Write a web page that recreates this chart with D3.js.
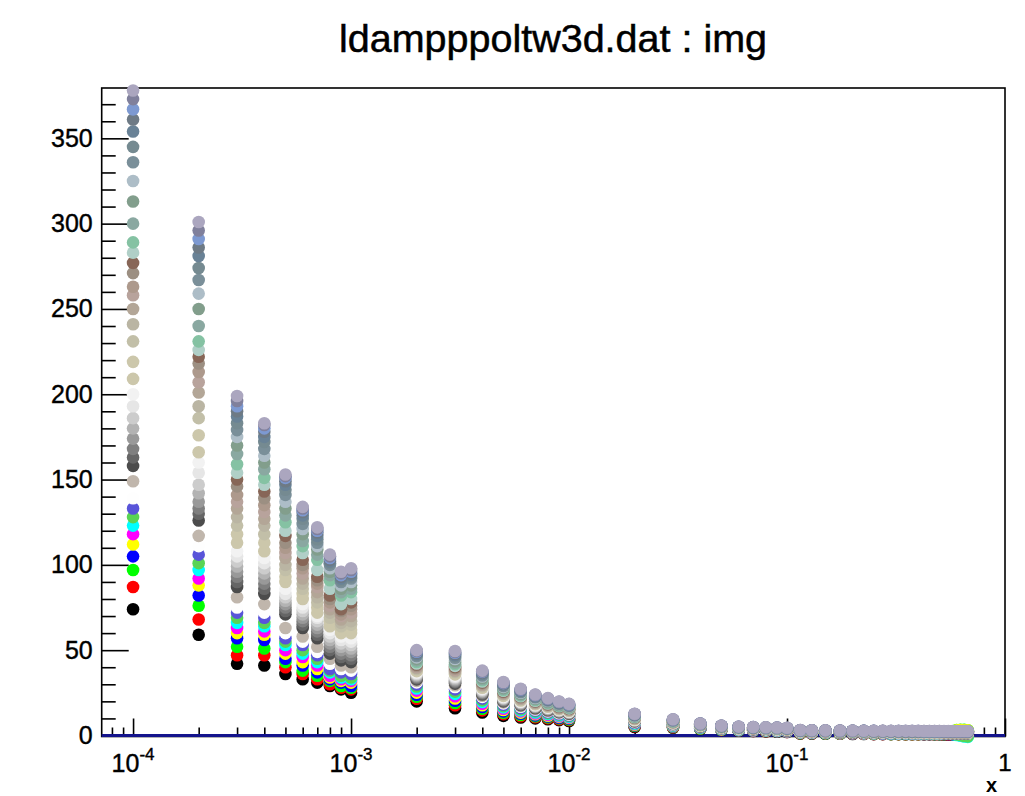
<!DOCTYPE html>
<html>
<head>
<meta charset="utf-8">
<script src="https://cdnjs.cloudflare.com/ajax/libs/d3/7.8.5/d3.min.js"></script>
<style>
  body { margin: 0; background: #ffffff; }
  svg text { font-family: "Liberation Sans", Arial, Helvetica, sans-serif; }
</style>
</head>
<body>
<div id="plot"></div>
<script>
// x position of every column of points
var xValues = [0.0001, 0.0002, 0.0003, 0.0004, 0.0005, 0.0006, 0.0007, 0.0008, 0.0009,
  0.001, 0.002, 0.003, 0.004, 0.005, 0.006, 0.007, 0.008, 0.009,
  0.01, 0.02, 0.03, 0.04, 0.05, 0.06, 0.07, 0.08, 0.09,
  0.1, 0.115, 0.13, 0.15, 0.175, 0.2, 0.225, 0.25, 0.275, 0.3, 0.325, 0.35, 0.375, 0.4,
  0.425, 0.45, 0.475, 0.5, 0.525, 0.55, 0.575, 0.6, 0.625, 0.65, 0.675];

// values of the 40 series (series 1 .. 40) in each column
var v_1e4 = [74, 87, 97, 105, 112, 118, 123, 128, 133, 139, 149, 158, 163, 168, 174, 180, 186, 193, 200, 209, 219, 231, 241, 250, 258, 263, 271, 277, 283, 289, 300, 313, 325, 336, 345, 354, 361, 367, 373, 378];
var v_2e4 = [59, 68, 76, 82, 88, 92, 97, 101, 106, 111, 117, 126, 130, 133, 137, 142, 147, 154, 160, 166, 176, 186, 193, 201, 207, 213, 218, 222, 226, 231, 240, 250, 259, 267, 274, 281, 286, 291, 296, 301];
var v_3e4 = [42, 47, 52, 57, 60, 63, 66, 69, 72, 75, 81, 87, 90, 93, 96, 99, 102, 105, 108, 113, 118, 123, 128, 133, 137, 141, 146, 150, 154, 159, 165, 170, 175, 179, 183, 187, 190, 193, 196, 199];
var v_4e4 = [41, 47, 51, 56, 59, 61, 64, 66, 69, 72, 77, 83, 86, 89, 92, 95, 98, 101, 104, 108, 113, 118, 123, 127, 131, 135, 139, 143, 147, 151, 156, 160, 164, 168, 172, 175, 178, 180, 182, 183];
var v_5e4 = [36, 40, 43, 45, 48, 50, 53, 55, 57, 60, 63, 71, 73, 75, 77, 79, 81, 83, 86, 90, 93, 97, 100, 104, 107, 110, 113, 117, 120, 125, 129, 133, 137, 141, 144, 147, 149, 151, 152, 153];
var v_6e4 = [33, 36, 38, 41, 43, 46, 48, 50, 53, 55, 58, 63, 65, 67, 69, 71, 73, 75, 77, 80, 83, 86, 89, 92, 95, 98, 100, 103, 107, 111, 114, 118, 121, 124, 127, 129, 131, 132, 133, 134];
var v_7e4 = [31, 33, 35, 37, 39, 41, 43, 45, 47, 49, 52, 57, 59, 61, 63, 65, 67, 69, 70, 72, 75, 78, 81, 84, 87, 89, 91, 93, 97, 103, 106, 109, 111, 113, 115, 117, 119, 120, 121, 122];
var v_8e4 = [29, 30, 32, 33, 34, 35, 37, 38, 39, 42, 45, 48, 50, 52, 54, 56, 58, 60, 62, 64, 67, 69, 72, 74, 76, 78, 80, 82, 86, 91, 94, 96, 98, 100, 101, 102, 103, 104, 105, 106];
var v_9e4 = [27, 28, 29, 31, 32, 33, 34, 35, 37, 39, 41, 44, 46, 48, 50, 52, 54, 56, 58, 60, 62, 64, 66, 68, 70, 71, 73, 74, 77, 82, 84, 86, 88, 90, 91, 92, 93, 94, 95, 96];
var v_1e3 = [25, 27, 28, 29, 31, 32, 33, 34, 36, 38, 40, 43, 45, 47, 49, 51, 53, 55, 57, 60, 62, 65, 67, 70, 72, 74, 76, 78, 80, 84, 86, 88, 90, 92, 93, 94, 95, 96, 97, 98];
var v_2e3 = [20, 21.5, 22.7, 23.9, 25.1, 26.3, 27.5, 28.7, 29.9, 31.1, 32, 32.9, 33.5, 34.1, 34.7, 35.3, 35.9, 36.5, 37.1, 37.7, 38.3, 38.9, 39.4, 39.8, 40.3, 40.7, 41.2, 41.6, 42.2, 43.1, 44, 44.9, 45.8, 46.6, 47.3, 47.9, 48.5, 49.1, 49.6, 50];
var v_3e3 = [16, 17.7, 19, 20.4, 21.7, 23, 24.4, 25.7, 27, 28.4, 29.4, 30.4, 31.1, 31.7, 32.4, 33.1, 33.8, 34.4, 35.1, 35.8, 36.4, 37.1, 37.6, 38.1, 38.6, 39.1, 39.6, 40.1, 40.8, 41.8, 42.8, 43.8, 44.8, 45.6, 46.5, 47.2, 47.8, 48.5, 49, 49.5];
var v_4e3 = [13.5, 14.7, 15.7, 16.7, 17.7, 18.6, 19.6, 20.6, 21.6, 22.6, 23.3, 24, 24.5, 25, 25.5, 26, 26.5, 27, 27.5, 28, 28.4, 28.9, 29.3, 29.7, 30, 30.4, 30.8, 31.1, 31.6, 32.4, 33.1, 33.8, 34.6, 35.2, 35.8, 36.3, 36.8, 37.3, 37.6, 38];
var v_5e3 = [11.5, 12.5, 13.3, 14.1, 14.9, 15.7, 16.5, 17.2, 18, 18.8, 19.4, 20, 20.4, 20.8, 21.2, 21.6, 22, 22.4, 22.8, 23.2, 23.6, 24, 24.3, 24.6, 24.9, 25.2, 25.5, 25.8, 26.2, 26.7, 27.3, 27.9, 28.5, 29, 29.5, 29.9, 30.3, 30.7, 31, 31.3];
var v_6e3 = [10.5, 11.3, 12, 12.7, 13.4, 14.1, 14.7, 15.4, 16.1, 16.8, 17.3, 17.8, 18.1, 18.4, 18.8, 19.1, 19.5, 19.8, 20.1, 20.5, 20.8, 21.1, 21.4, 21.7, 21.9, 22.2, 22.4, 22.7, 23, 23.5, 24, 24.5, 25, 25.5, 25.9, 26.2, 26.6, 26.9, 27.1, 27.4];
var v_7e3 = [10, 10.7, 11.3, 11.8, 12.4, 12.9, 13.5, 14.1, 14.6, 15.2, 15.6, 16, 16.3, 16.6, 16.9, 17.1, 17.4, 17.7, 18, 18.3, 18.5, 18.8, 19, 19.2, 19.5, 19.7, 19.9, 20.1, 20.4, 20.8, 21.2, 21.6, 22, 22.4, 22.7, 23, 23.3, 23.6, 23.8, 24];
var v_8e3 = [9.5, 10.1, 10.6, 11.1, 11.6, 12.1, 12.6, 13.1, 13.6, 14.1, 14.5, 14.8, 15.1, 15.3, 15.6, 15.8, 16.1, 16.3, 16.6, 16.8, 17.1, 17.3, 17.5, 17.7, 17.9, 18.1, 18.2, 18.4, 18.7, 19, 19.4, 19.8, 20.2, 20.5, 20.8, 21, 21.3, 21.5, 21.7, 21.9];
var v_9e3 = [9, 9.5, 10, 10.4, 10.9, 11.3, 11.7, 12.2, 12.6, 13, 13.4, 13.7, 13.9, 14.1, 14.3, 14.6, 14.8, 15, 15.2, 15.4, 15.6, 15.9, 16, 16.2, 16.4, 16.5, 16.7, 16.8, 17.1, 17.4, 17.7, 18, 18.4, 18.6, 18.9, 19.1, 19.4, 19.6, 19.7, 19.9];
var v_1e2 = [8.5, 9, 9.4, 9.8, 10.2, 10.6, 11, 11.4, 11.8, 12.2, 12.5, 12.8, 13, 13.2, 13.4, 13.6, 13.8, 14, 14.2, 14.4, 14.6, 14.8, 15, 15.1, 15.3, 15.4, 15.6, 15.7, 15.9, 16.2, 16.5, 16.8, 17.1, 17.4, 17.6, 17.8, 18, 18.2, 18.4, 18.5];
var v_2e2 = [5, 5.4, 5.7, 6, 6.3, 6.6, 6.9, 7.2, 7.5, 7.8, 8.1, 8.3, 8.5, 8.6, 8.8, 8.9, 9.1, 9.2, 9.4, 9.5, 9.7, 9.9, 10, 10.1, 10.2, 10.3, 10.4, 10.5, 10.7, 10.9, 11.2, 11.4, 11.6, 11.8, 12, 12.2, 12.3, 12.5, 12.6, 12.7];
var v_3e2 = [4.5, 4.8, 5, 5.2, 5.4, 5.6, 5.8, 6, 6.2, 6.4, 6.6, 6.7, 6.8, 6.9, 7, 7.1, 7.2, 7.3, 7.4, 7.5, 7.6, 7.7, 7.8, 7.8, 7.9, 8, 8, 8.1, 8.2, 8.3, 8.5, 8.6, 8.8, 8.9, 9, 9.1, 9.2, 9.3, 9.4, 9.5];
var v_4e2 = [3.8, 4, 4.1, 4.3, 4.4, 4.6, 4.7, 4.9, 5, 5.2, 5.3, 5.4, 5.5, 5.5, 5.6, 5.7, 5.7, 5.8, 5.9, 5.9, 6, 6.1, 6.1, 6.2, 6.2, 6.3, 6.3, 6.4, 6.4, 6.5, 6.6, 6.6, 6.7, 6.8, 6.8, 6.9, 6.9, 7, 7, 7];
var v_5e2 = [3.2, 3.3, 3.4, 3.5, 3.6, 3.8, 3.9, 4, 4.1, 4.2, 4.3, 4.4, 4.4, 4.5, 4.5, 4.6, 4.6, 4.7, 4.7, 4.8, 4.8, 4.9, 4.9, 5, 5, 5.1, 5.1, 5.1, 5.2, 5.2, 5.3, 5.4, 5.4, 5.5, 5.5, 5.6, 5.6, 5.7, 5.7, 5.8];
var v_6e2 = [2.8, 2.9, 3, 3.1, 3.2, 3.3, 3.4, 3.5, 3.6, 3.7, 3.8, 3.9, 3.9, 4, 4, 4.1, 4.1, 4.2, 4.2, 4.3, 4.3, 4.4, 4.4, 4.5, 4.5, 4.5, 4.6, 4.6, 4.6, 4.7, 4.7, 4.8, 4.8, 4.9, 4.9, 5, 5, 5.1, 5.1, 5.2];
var v_7e2 = [2.6, 2.7, 2.8, 2.9, 3, 3.1, 3.2, 3.3, 3.4, 3.5, 3.6, 3.7, 3.7, 3.8, 3.8, 3.9, 3.9, 4, 4, 4.1, 4.1, 4.2, 4.2, 4.3, 4.3, 4.3, 4.4, 4.4, 4.4, 4.5, 4.5, 4.6, 4.6, 4.7, 4.7, 4.8, 4.8, 4.9, 4.9, 5];
var v_8e2 = [2.4, 2.5, 2.6, 2.7, 2.8, 2.9, 3, 3.1, 3.2, 3.3, 3.4, 3.5, 3.5, 3.6, 3.6, 3.7, 3.7, 3.8, 3.8, 3.9, 3.9, 4, 4, 4.1, 4.1, 4.1, 4.2, 4.2, 4.2, 4.3, 4.3, 4.4, 4.4, 4.5, 4.5, 4.6, 4.6, 4.7, 4.7, 4.8];
var v_9e2 = [2.2, 2.3, 2.4, 2.5, 2.6, 2.7, 2.8, 2.9, 3, 3.1, 3.2, 3.3, 3.3, 3.4, 3.5, 3.5, 3.6, 3.6, 3.7, 3.7, 3.8, 3.8, 3.9, 3.9, 4, 4, 4.1, 4.1, 4.1, 4.2, 4.2, 4.3, 4.3, 4.4, 4.4, 4.5, 4.5, 4.6, 4.6, 4.7];
var v_1e1 = [2, 2.1, 2.2, 2.3, 2.4, 2.5, 2.6, 2.7, 2.8, 2.9, 3, 3.1, 3.1, 3.2, 3.3, 3.3, 3.4, 3.4, 3.5, 3.5, 3.6, 3.6, 3.7, 3.7, 3.8, 3.8, 3.9, 3.9, 3.9, 4, 4, 4.1, 4.1, 4.2, 4.2, 4.3, 4.3, 4.4, 4.4, 4.5];
var v_0115 = [1.2, 1.3, 1.4, 1.5, 1.6, 1.7, 1.8, 1.9, 2, 2, 2.1, 2.2, 2.2, 2.3, 2.3, 2.4, 2.4, 2.5, 2.5, 2.5, 2.6, 2.6, 2.6, 2.7, 2.7, 2.7, 2.8, 2.8, 2.8, 2.9, 2.9, 2.9, 3, 3, 3, 3.1, 3.1, 3.1, 3.2, 3.2];
var v_0130 = [1.1, 1.2, 1.3, 1.4, 1.5, 1.6, 1.7, 1.8, 1.9, 1.9, 2, 2.1, 2.1, 2.2, 2.2, 2.3, 2.3, 2.4, 2.4, 2.4, 2.5, 2.5, 2.5, 2.6, 2.6, 2.6, 2.7, 2.7, 2.7, 2.8, 2.8, 2.8, 2.9, 2.9, 2.9, 3, 3, 3, 3.1, 3.1];
var v_0150 = [1, 1.1, 1.2, 1.3, 1.4, 1.5, 1.6, 1.7, 1.8, 1.8, 1.9, 2, 2, 2.1, 2.1, 2.2, 2.2, 2.3, 2.3, 2.3, 2.4, 2.4, 2.4, 2.5, 2.5, 2.5, 2.6, 2.6, 2.6, 2.7, 2.7, 2.7, 2.8, 2.8, 2.8, 2.9, 2.9, 2.9, 3, 3];
var v_0175 = [1, 1.1, 1.2, 1.3, 1.3, 1.4, 1.5, 1.6, 1.7, 1.7, 1.8, 1.9, 1.9, 2, 2, 2.1, 2.1, 2.2, 2.2, 2.2, 2.3, 2.3, 2.3, 2.4, 2.4, 2.4, 2.5, 2.5, 2.5, 2.6, 2.6, 2.6, 2.7, 2.7, 2.7, 2.8, 2.8, 2.8, 2.9, 2.9];
var v_0200 = [0.9, 1, 1.1, 1.2, 1.3, 1.4, 1.5, 1.5, 1.6, 1.7, 1.7, 1.8, 1.9, 1.9, 2, 2, 2.1, 2.1, 2.1, 2.2, 2.2, 2.3, 2.3, 2.3, 2.4, 2.4, 2.4, 2.5, 2.5, 2.5, 2.6, 2.6, 2.6, 2.7, 2.7, 2.7, 2.8, 2.8, 2.8, 2.9];
var v_0225 = [0.9, 1, 1.1, 1.2, 1.2, 1.3, 1.4, 1.5, 1.5, 1.6, 1.7, 1.7, 1.8, 1.8, 1.9, 1.9, 2, 2, 2.1, 2.1, 2.2, 2.2, 2.2, 2.3, 2.3, 2.3, 2.4, 2.4, 2.4, 2.5, 2.5, 2.5, 2.6, 2.6, 2.6, 2.7, 2.7, 2.7, 2.8, 2.8];
var v_0250 = [0.8, 0.9, 1, 1.1, 1.2, 1.3, 1.3, 1.4, 1.5, 1.5, 1.6, 1.7, 1.7, 1.8, 1.8, 1.9, 1.9, 2, 2, 2, 2.1, 2.1, 2.2, 2.2, 2.2, 2.3, 2.3, 2.3, 2.4, 2.4, 2.4, 2.5, 2.5, 2.5, 2.6, 2.6, 2.6, 2.7, 2.7, 2.8];
var v_0275 = [0.8, 0.9, 1, 1.1, 1.1, 1.2, 1.3, 1.4, 1.4, 1.5, 1.6, 1.6, 1.7, 1.7, 1.8, 1.8, 1.9, 1.9, 2, 2, 2, 2.1, 2.1, 2.2, 2.2, 2.2, 2.3, 2.3, 2.3, 2.4, 2.4, 2.4, 2.5, 2.5, 2.5, 2.6, 2.6, 2.6, 2.7, 2.7];
var v_0300 = [0.8, 0.9, 0.9, 1, 1.1, 1.2, 1.2, 1.3, 1.4, 1.5, 1.5, 1.6, 1.6, 1.7, 1.7, 1.8, 1.8, 1.9, 1.9, 2, 2, 2, 2.1, 2.1, 2.2, 2.2, 2.2, 2.3, 2.3, 2.3, 2.4, 2.4, 2.4, 2.5, 2.5, 2.5, 2.6, 2.6, 2.6, 2.7];
var v_0325 = [0.8, 0.8, 0.9, 1, 1.1, 1.1, 1.2, 1.3, 1.4, 1.4, 1.5, 1.6, 1.6, 1.7, 1.7, 1.8, 1.8, 1.9, 1.9, 1.9, 2, 2, 2.1, 2.1, 2.1, 2.2, 2.2, 2.3, 2.3, 2.3, 2.4, 2.4, 2.4, 2.5, 2.5, 2.5, 2.6, 2.6, 2.6, 2.7];
var v_0350 = [0.7, 0.8, 0.9, 1, 1.1, 1.1, 1.2, 1.3, 1.4, 1.4, 1.5, 1.5, 1.6, 1.6, 1.7, 1.7, 1.8, 1.8, 1.9, 1.9, 2, 2, 2, 2.1, 2.1, 2.1, 2.2, 2.2, 2.3, 2.3, 2.3, 2.4, 2.4, 2.4, 2.5, 2.5, 2.5, 2.6, 2.6, 2.7];
var v_0375 = [0.7, 0.8, 0.9, 1, 1, 1.1, 1.2, 1.3, 1.3, 1.4, 1.5, 1.5, 1.6, 1.6, 1.7, 1.7, 1.8, 1.8, 1.9, 1.9, 1.9, 2, 2, 2.1, 2.1, 2.1, 2.2, 2.2, 2.2, 2.3, 2.3, 2.4, 2.4, 2.4, 2.5, 2.5, 2.5, 2.6, 2.6, 2.7];
var v_0400 = [0.7, 0.8, 0.9, 1, 1, 1.1, 1.2, 1.3, 1.3, 1.4, 1.4, 1.5, 1.6, 1.6, 1.7, 1.7, 1.8, 1.8, 1.8, 1.9, 1.9, 2, 2, 2, 2.1, 2.1, 2.2, 2.2, 2.2, 2.3, 2.3, 2.3, 2.4, 2.4, 2.4, 2.5, 2.5, 2.6, 2.6, 2.7];
var v_0425 = [0.7, 0.8, 0.9, 0.9, 1, 1.1, 1.2, 1.2, 1.3, 1.4, 1.4, 1.5, 1.5, 1.6, 1.6, 1.7, 1.7, 1.8, 1.8, 1.9, 1.9, 2, 2, 2, 2.1, 2.1, 2.1, 2.2, 2.2, 2.3, 2.3, 2.3, 2.4, 2.4, 2.4, 2.5, 2.5, 2.5, 2.6, 2.6];
var v_0450 = [0.7, 0.8, 0.9, 0.9, 1, 1.1, 1.2, 1.2, 1.3, 1.4, 1.4, 1.5, 1.5, 1.6, 1.6, 1.7, 1.7, 1.8, 1.8, 1.9, 1.9, 1.9, 2, 2, 2.1, 2.1, 2.1, 2.2, 2.2, 2.2, 2.3, 2.3, 2.4, 2.4, 2.4, 2.5, 2.5, 2.5, 2.6, 2.6];
var v_0475 = [0.7, 0.7, 0.8, 0.9, 1, 1.1, 1.1, 1.2, 1.3, 1.3, 1.4, 1.5, 1.5, 1.6, 1.6, 1.7, 1.7, 1.8, 1.8, 1.8, 1.9, 1.9, 2, 2, 2.1, 2.1, 2.1, 2.2, 2.2, 2.2, 2.3, 2.3, 2.3, 2.4, 2.4, 2.4, 2.5, 2.5, 2.6, 2.6];
var v_0500 = [0.7, 0.7, 0.8, 0.9, 1, 1.1, 1.1, 1.2, 1.3, 1.3, 1.4, 1.5, 1.5, 1.6, 1.6, 1.7, 1.7, 1.8, 1.8, 1.8, 1.9, 1.9, 2, 2, 2, 2.1, 2.1, 2.2, 2.2, 2.2, 2.3, 2.3, 2.3, 2.4, 2.4, 2.4, 2.5, 2.5, 2.6, 2.6];
var v_0525 = [0.6, 0.7, 0.8, 0.9, 1, 1, 1.1, 1.2, 1.2, 1.3, 1.4, 1.4, 1.5, 1.5, 1.6, 1.6, 1.7, 1.7, 1.8, 1.8, 1.9, 1.9, 1.9, 2, 2, 2.1, 2.1, 2.1, 2.2, 2.2, 2.2, 2.3, 2.3, 2.4, 2.4, 2.4, 2.5, 2.5, 2.5, 2.6];
var v_0550 = [0.6, 0.7, 1.6, 0.9, 1.5, 1, 1.1, 1.1, 1.2, 1.3, 1.3, 1.4, 1.5, 1.5, 1.6, 1.6, 1.7, 1.7, 1.7, 1.8, 1.8, 1.9, 1.9, 2, 2, 2, 2.1, 2.1, 2.2, 2.2, 2.2, 2.3, 2.3, 2.3, 2.4, 2.4, 2.4, 2.5, 2.5, 2.6];
var v_0575 = [0.6, 0.7, 2.4, 0.8, 2.3, 1, 0.8, 1.1, 1.2, 1.2, 1.3, 1.4, 1.4, 1.5, 1.5, 1.6, 1.6, 1.7, 1.7, 1.8, 1.8, 1.9, 1.9, 1.9, 2, 2, 2.1, 2.1, 2.1, 2.2, 2.2, 2.3, 2.3, 2.3, 2.4, 2.4, 2.4, 2.5, 2.5, 2.6];
var v_0600 = [0.6, 0.7, 3.2, 0.9, 3.1, 1, 0.3, 0.6, 1.2, 1.3, 1.4, 1.4, 1.5, 1.5, 1.6, 1.6, 1.7, 1.7, 1.8, 1.8, 1.9, 1.9, 1.9, 2, 2, 2.1, 2.1, 2.1, 2.2, 2.2, 2.3, 2.3, 2.3, 2.4, 2.4, 2.4, 2.5, 2.5, 2.5, 2.6];
var v_0625 = [0.6, 0.7, 3.3, 0.8, 3.2, 0.9, -0.2, 0.2, 1.2, 1.2, 1.3, 1.4, 1.4, 1.5, 1.5, 1.6, 1.6, 1.7, 1.7, 1.8, 1.8, 1.9, 1.9, 1.9, 2, 2, 2.1, 2.1, 2.1, 2.2, 2.2, 2.3, 2.3, 2.3, 2.4, 2.4, 2.4, 2.5, 2.5, 2.6];
var v_0650 = [0.6, 0.7, 3.3, 0.8, 3.1, 0.9, -0.6, -0.3, 1.2, 1.2, 1.3, 1.4, 1.4, 1.5, 1.5, 1.6, 1.6, 1.7, 1.7, 1.8, 1.8, 1.9, 1.9, 1.9, 2, 2, 2.1, 2.1, 2.1, 2.2, 2.2, 2.3, 2.3, 2.3, 2.4, 2.4, 2.4, 2.5, 2.5, 2.6];
var v_0675 = [0.6, 0.7, 3.1, 0.8, 3, 0.9, -0.8, -0.5, 1.2, 1.2, 1.3, 1.4, 1.4, 1.5, 1.5, 1.6, 1.6, 1.7, 1.7, 1.8, 1.8, 1.9, 1.9, 1.9, 2, 2, 2.1, 2.1, 2.1, 2.2, 2.2, 2.3, 2.3, 2.3, 2.4, 2.4, 2.4, 2.5, 2.5, 2.6];

var columnValues = [v_1e4, v_2e4, v_3e4, v_4e4, v_5e4, v_6e4, v_7e4, v_8e4, v_9e4,
  v_1e3, v_2e3, v_3e3, v_4e3, v_5e3, v_6e3, v_7e3, v_8e3, v_9e3,
  v_1e2, v_2e2, v_3e2, v_4e2, v_5e2, v_6e2, v_7e2, v_8e2, v_9e2,
  v_1e1, v_0115, v_0130, v_0150, v_0175, v_0200, v_0225, v_0250, v_0275, v_0300, v_0325, v_0350, v_0375, v_0400,
  v_0425, v_0450, v_0475, v_0500, v_0525, v_0550, v_0575, v_0600, v_0625, v_0650, v_0675];

// marker colour of each series (ROOT palette indices 1..40)
var seriesColors = ["#000000", "#ff0000", "#00ff00", "#0000ff", "#ffff00", "#ff00ff", "#00ffff", "#59d454", "#5954d9", "#fefefe",
  "#c0b6ac", "#4c4c4c", "#666666", "#7f7f7f", "#999999", "#b3b3b3", "#cccccc", "#e6e6e6", "#f2f2f2", "#ccc7ab",
  "#ccc7ab", "#c2bfa8", "#bab5a3", "#b3a697", "#b8a39c", "#ad998c", "#9c8f82", "#876657", "#b0cfc7", "#85c2a3",
  "#8aa8a1", "#829e8c", "#adbdc7", "#7a8f99", "#758a91", "#698296", "#6e7a85", "#7d99d1", "#80809c", "#aba6bf"];

// axis ticks
var yMajorTicks = [0, 50, 100, 150, 200, 250, 300, 350];
var yMinorTicks = [10, 20, 30, 40, 60, 70, 80, 90, 110, 120, 130, 140, 160, 170, 180, 190, 210, 220, 230, 240,
  260, 270, 280, 290, 310, 320, 330, 340, 360, 370];
var xMajorTicks = [0.0001, 0.001, 0.01, 0.1, 1];
var xMinorTicks = [0.00008, 0.00009,
  0.0002, 0.0003, 0.0004, 0.0005, 0.0006, 0.0007, 0.0008, 0.0009,
  0.002, 0.003, 0.004, 0.005, 0.006, 0.007, 0.008, 0.009,
  0.02, 0.03, 0.04, 0.05, 0.06, 0.07, 0.08, 0.09,
  0.2, 0.3, 0.4, 0.5, 0.6, 0.7, 0.8, 0.9];
var xPowerLabels = [{value: 0.0001, exp: "-4"}, {value: 0.001, exp: "-3"}, {value: 0.01, exp: "-2"}, {value: 0.1, exp: "-1"}];

var titleText = "ldampppoltw3d.dat : img";
var xAxisTitle = "x";

// svg and frame geometry
var svgWidth = 1025;
var svgHeight = 796;
var frame = {left: 101.7, right: 1005, top: 88, bottom: 736.5};

var svg = d3.select("#plot")
  .append("svg")
  .attr("width", svgWidth)
  .attr("height", svgHeight);

var xScale = d3.scaleLog()
  .domain([7.18e-5, 1])
  .range([frame.left, frame.right]);

var yScale = d3.scaleLinear()
  .domain([-0.6, 379.5])
  .range([frame.bottom, frame.top]);

// title
svg.append("text")
  .attr("x", 553)
  .attr("y", 52)
  .attr("text-anchor", "middle")
  .attr("font-size", 39.5)
  .attr("fill", "#000")
  .attr("stroke", "#000")
  .attr("stroke-width", 0.5)
  .text(titleText);

// frame
svg.append("rect")
  .attr("x", frame.left)
  .attr("y", frame.top)
  .attr("width", frame.right - frame.left)
  .attr("height", frame.bottom - frame.top)
  .attr("fill", "none")
  .attr("stroke", "#000")
  .attr("stroke-width", 1.6);

function styleAxis(g) {
  g.select(".domain").remove();
  g.selectAll(".tick line").attr("stroke", "#000").attr("stroke-width", 1.6);
}

// y axis: ticks point into the frame, labels on the left
svg.append("g")
  .attr("transform", `translate(${frame.left},0)`)
  .call(d3.axisLeft(yScale).tickValues(yMinorTicks).tickSize(-14).tickFormat(""))
  .call(styleAxis);

svg.append("g")
  .attr("transform", `translate(${frame.left},0)`)
  .call(d3.axisLeft(yScale).tickValues(yMajorTicks).tickSize(-27).tickPadding(9).tickFormat(d3.format("d")))
  .call(styleAxis)
  .call(g => g.selectAll("text")
    .attr("font-size", 25)
    .attr("font-family", "Liberation Sans, Arial, sans-serif")
    .attr("fill", "#000")
    .attr("stroke", "#000")
    .attr("stroke-width", 0.4));

// x axis (log): ticks point up into the frame
svg.append("g")
  .attr("transform", `translate(0,${frame.bottom})`)
  .call(d3.axisBottom(xScale).tickValues(xMinorTicks).tickSize(-9).tickFormat(""))
  .call(styleAxis);

svg.append("g")
  .attr("transform", `translate(0,${frame.bottom})`)
  .call(d3.axisBottom(xScale).tickValues(xMajorTicks).tickSize(-18).tickFormat(""))
  .call(styleAxis);

// x tick labels 10^n
svg.append("g").selectAll("text")
  .data(xPowerLabels)
  .enter()
  .append("text")
  .attr("x", d => xScale(d.value))
  .attr("y", 772)
  .attr("text-anchor", "middle")
  .attr("font-size", 25)
  .attr("fill", "#000")
  .attr("stroke", "#000")
  .attr("stroke-width", 0.4)
  .each(function(d) {
    var t = d3.select(this);
    t.append("tspan").text("10");
    t.append("tspan").attr("dy", -12).attr("font-size", 17).text(d.exp);
  });

svg.append("text")
  .attr("x", xScale(1))
  .attr("y", 771)
  .attr("text-anchor", "middle")
  .attr("font-size", 24)
  .attr("fill", "#000")
  .attr("stroke", "#000")
  .attr("stroke-width", 0.4)
  .text("1");

// x axis title
svg.append("text")
  .attr("x", frame.right - 8)
  .attr("y", 792)
  .attr("text-anchor", "end")
  .attr("font-size", 20)
  .attr("font-weight", "bold")
  .attr("fill", "#000")
  .text(xAxisTitle);

// zero line
svg.append("line")
  .attr("x1", xScale(xScale.domain()[0]))
  .attr("x2", xScale(1))
  .attr("y1", yScale(0))
  .attr("y2", yScale(0))
  .attr("stroke", "#14148c")
  .attr("stroke-width", 3);

// build the points: series 1 drawn first, series 40 last
var points = [];
seriesColors.forEach(function(color, s) {
  xValues.forEach(function(xv, c) {
    points.push({x: xv, y: columnValues[c][s], color: color});
  });
});

svg.append("g").selectAll("circle")
  .data(points)
  .enter()
  .append("circle")
  .attr("cx", d => xScale(d.x))
  .attr("cy", d => yScale(d.y))
  .attr("r", 6.3)
  .attr("fill", d => d.color);
</script>
</body>
</html>
